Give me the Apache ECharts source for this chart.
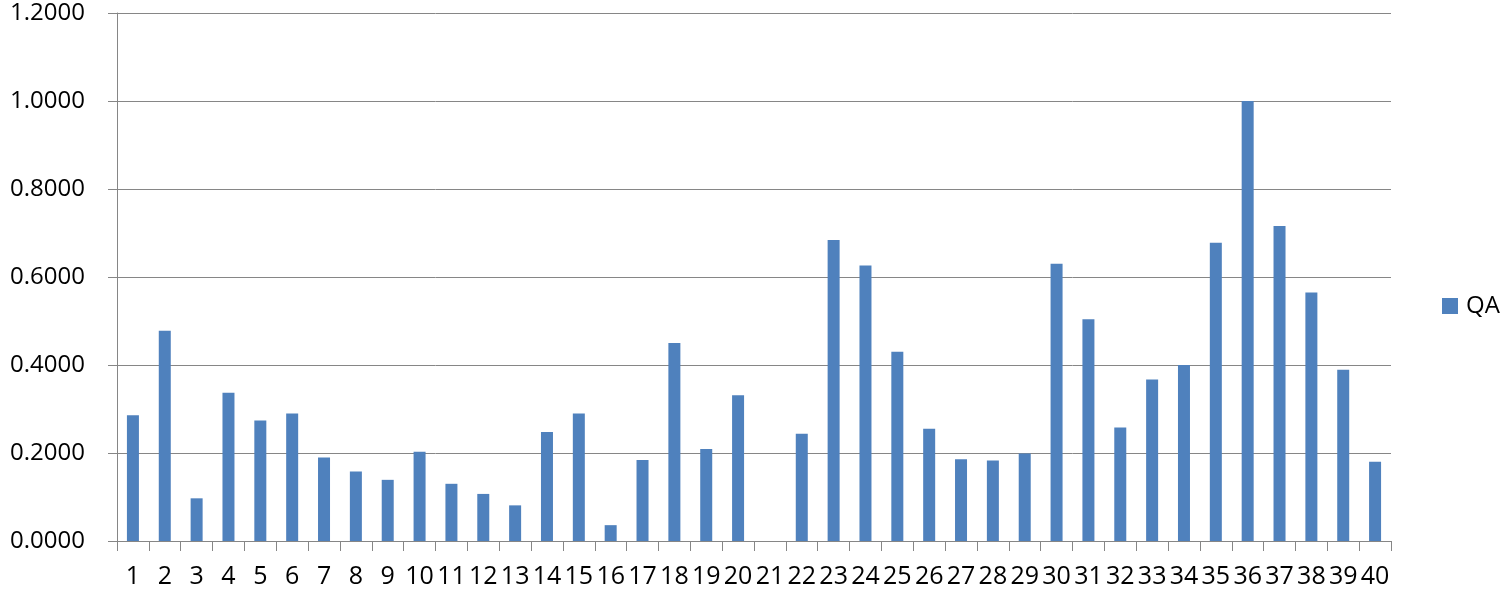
<!DOCTYPE html>
<html>
<head>
<meta charset="utf-8">
<script src="https://cdn.jsdelivr.net/npm/echarts@6/dist/echarts.min.js"></script>
<style>
  html, body { margin: 0; padding: 0; background: #fff; }
  #main { width: 1500px; height: 591px; }
</style>
</head>
<body>
<div id="main"></div>
<script>
  var categories = ['1', '2', '3', '4', '5', '6', '7', '8', '9', '10',
    '11', '12', '13', '14', '15', '16', '17', '18', '19', '20',
    '21', '22', '23', '24', '25', '26', '27', '28', '29', '30',
    '31', '32', '33', '34', '35', '36', '37', '38', '39', '40'];
  var qaValues = [0.286, 0.478, 0.097, 0.337, 0.274, 0.290, 0.190, 0.158, 0.139, 0.203,
    0.130, 0.107, 0.081, 0.248, 0.290, 0.036, 0.184, 0.450, 0.209, 0.331,
    0, 0.244, 0.684, 0.626, 0.430, 0.255, 0.186, 0.183, 0.199, 0.630,
    0.504, 0.258, 0.367, 0.400, 0.678, 1.000, 0.716, 0.565, 0.389, 0.180];
  var yMin = 0, yMax = 1.2, yStep = 0.2;

  var chart = echarts.init(document.getElementById('main'));
  var font = '"Open Sans", "Noto Sans", sans-serif';
  var lineColor = '#868686';

  var option = {
    animation: false,
    backgroundColor: '#fff',
    grid: { left: 117, right: 109, top: 13, bottom: 50, containLabel: false },
    legend: {
      data: ['QA'],
      left: 1437,
      top: 289,
      orient: 'vertical',
      icon: 'rect',
      itemWidth: 16,
      itemHeight: 16,
      textStyle: { fontFamily: font, fontSize: 24, color: '#000', padding: [0, 0, 0, 3] }
    },
    xAxis: {
      type: 'category',
      data: categories,
      boundaryGap: true,
      axisLine: { show: true, lineStyle: { color: lineColor, width: 1 } },
      axisTick: { show: true, length: 10, alignWithLabel: false, lineStyle: { color: lineColor } },
      axisLabel: { interval: 0, margin: 23, fontFamily: font, fontSize: 25, color: '#000' },
      splitLine: { show: false }
    },
    yAxis: {
      type: 'value',
      min: yMin,
      max: yMax,
      interval: yStep,
      axisLine: { show: true, lineStyle: { color: lineColor, width: 1 } },
      axisTick: { show: true, length: 9, lineStyle: { color: lineColor } },
      axisLabel: {
        margin: 32,
        fontFamily: font,
        fontSize: 24,
        color: '#000',
        formatter: function (v) { return v.toFixed(4); }
      },
      splitLine: { show: true, lineStyle: { color: lineColor, width: 1 } }
    },
    series: [{
      name: 'QA',
      type: 'bar',
      data: qaValues,
      barWidth: 12,
      itemStyle: { color: '#4F81BD' }
    }]
  };

  chart.setOption(option);
</script>
</body>
</html>
